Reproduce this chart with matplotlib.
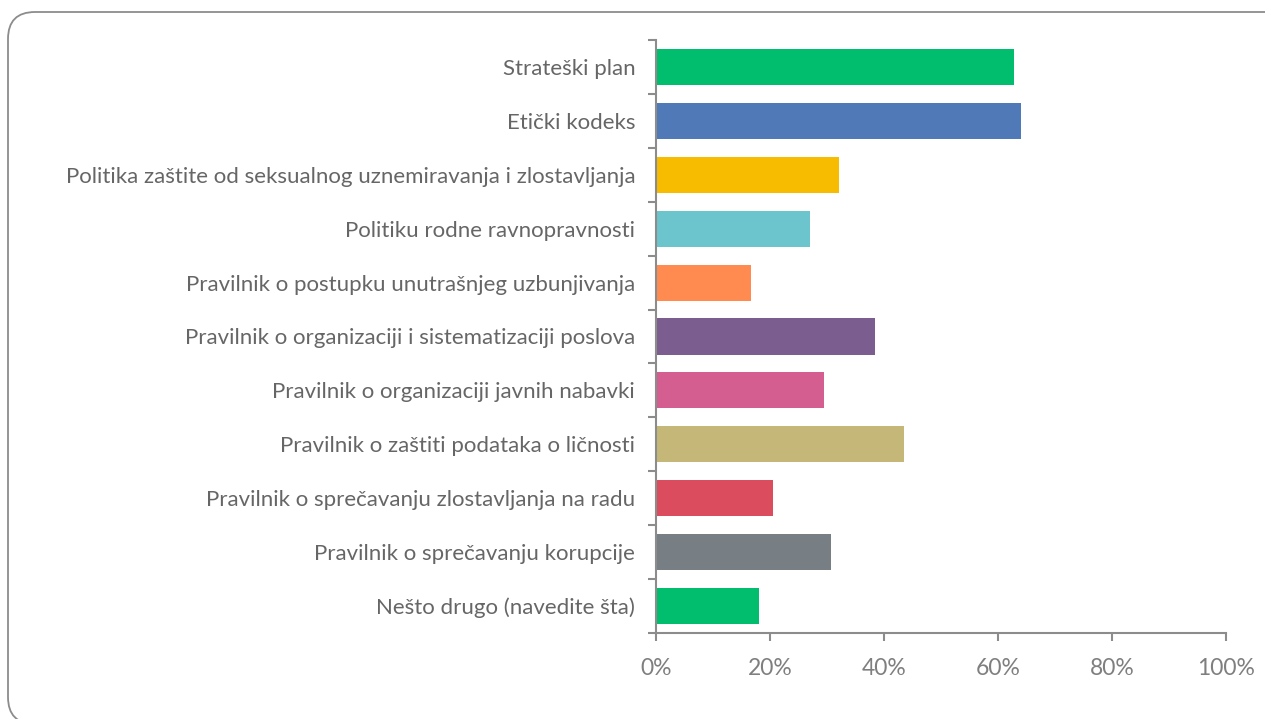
import matplotlib.pyplot as plt
from matplotlib.patches import FancyBboxPatch
from matplotlib.ticker import PercentFormatter

categories = [
    "Strateški plan",
    "Etički kodeks",
    "Politika zaštite od seksualnog uznemiravanja i zlostavljanja",
    "Politiku rodne ravnopravnosti",
    "Pravilnik o postupku unutrašnjeg uzbunjivanja",
    "Pravilnik o organizaciji i sistematizaciji poslova",
    "Pravilnik o organizaciji javnih nabavki",
    "Pravilnik o zaštiti podataka o ličnosti",
    "Pravilnik o sprečavanju zlostavljanja na radu",
    "Pravilnik o sprečavanju korupcije",
    "Nešto drugo (navedite šta)",
]
values = [62.8, 64.0, 32.1, 27.0, 16.7, 38.4, 29.5, 43.5, 20.5, 30.7, 18.1]
colors = ["#00BE6E", "#4F7AB7", "#F7BC00", "#6CC5CD", "#FF8B50", "#7B5E8F",
          "#D35E8F", "#C5B778", "#DB4D5E", "#787F84", "#00BE6E"]

plt.rcParams['font.family'] = ['Lato', 'DejaVu Sans']

fig = plt.figure(figsize=(12.65, 7.19), dpi=100)
ax = fig.add_axes([0.5186, 0.1196, 0.4506, 0.8248])

# rounded frame around the whole chart (in inches)
frame = FancyBboxPatch((0.08, -0.05), 13.0, 7.07 + 0.05,
                       boxstyle="round,pad=0,rounding_size=0.27",
                       transform=fig.dpi_scale_trans, fill=False,
                       edgecolor="#8c8c8c", linewidth=1.3)
fig.patches.append(frame)

n = len(categories)
pos = list(range(n))
ax.barh(pos, values, height=0.67, color=colors)

ax.set_ylim(n - 0.5, -0.5)
ax.set_xlim(0, 100)

# category labels as minor ticks at centre, major ticks at boundaries
ax.set_yticks([p - 0.5 for p in pos] + [n - 0.5])
ax.set_yticklabels([])
ax.set_yticks(pos, minor=True)
ax.set_yticklabels(categories, minor=True, fontsize=16, color="#666666")
ax.tick_params(axis="y", which="minor", length=0, pad=15)
ax.tick_params(axis="y", which="major", length=6, width=1.5, color="#8c8c8c")

ax.set_xticks([0, 20, 40, 60, 80, 100])
ax.xaxis.set_major_formatter(PercentFormatter(decimals=0))
ax.tick_params(axis="x", length=6, width=1.5, color="#8c8c8c", labelsize=16.5,
               labelcolor="#7f7f7f", pad=12)

for side in ["top", "right"]:
    ax.spines[side].set_visible(False)
for side in ["left", "bottom"]:
    ax.spines[side].set_color("#8c8c8c")
    ax.spines[side].set_linewidth(1.5)

fig.savefig("out.png", dpi=100)
